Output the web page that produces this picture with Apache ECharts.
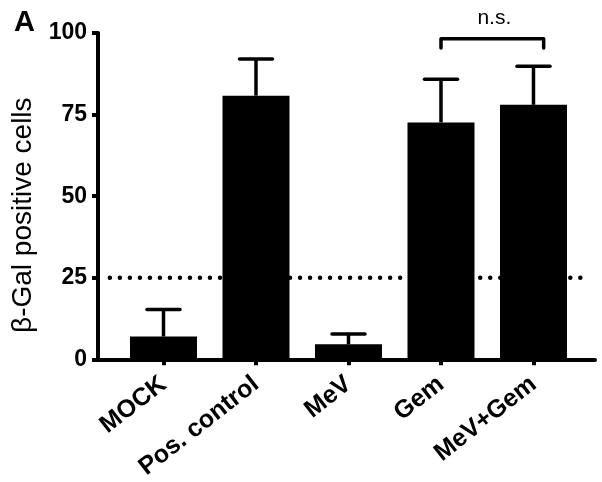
<!DOCTYPE html>
<html><head><meta charset="utf-8">
<script src="https://cdn.jsdelivr.net/npm/echarts@6/dist/echarts.min.js"></script>
<style>html,body{margin:0;padding:0;background:#fff}#c{width:602px;height:482px}</style>
</head><body><div id="c"></div>
<script>
const categories = ['MOCK', 'Pos. control', 'MeV', 'Gem', 'MeV+Gem'];
const means = [7.0, 80.8, 4.6, 72.6, 78.0];
const upper = [15.3, 92.0, 7.8, 85.8, 89.8];
const yTicks = [0, 25, 50, 75, 100];
const threshold = 25;
const bracketPair = [3, 4];
const bracketLabel = 'n.s.';

const chart = echarts.init(document.getElementById('c'));
const F = 'Liberation Sans, Arial, sans-serif';
const idx = categories.map((_, i) => i);

chart.setOption({
  animation: false,
  textStyle: { fontFamily: F, color: '#000' },
  title: { text: 'A', left: 9, top: 3, textStyle: { fontFamily: F, fontSize: 29, fontWeight: 'bold', color: '#000' } },
  grid: { left: 98, right: 7, top: 33, bottom: 121, containLabel: false },
  xAxis: {
    type: 'value', min: -0.708, max: 4.665,
    axisLine: { show: true, onZero: false, lineStyle: { color: '#000', width: 4 } },
    axisTick: { show: true, customValues: idx, length: 6, lineStyle: { color: '#000', width: 4 } },
    axisLabel: { customValues: idx, rotate: 38, margin: 22, fontFamily: F, fontSize: 25, fontWeight: 'bold', color: '#000',
      formatter: v => categories[Math.round(v)] },
    splitLine: { show: false }
  },
  yAxis: {
    type: 'value', min: 0, max: 100, interval: 25,
    name: 'β-Gal positive cells', nameLocation: 'middle', nameGap: 56,
    nameTextStyle: { fontFamily: F, fontSize: 28, color: '#000', padding: [0, 38, 0, 0] },
    axisLine: { show: true, onZero: false, lineStyle: { color: '#000', width: 4 } },
    axisTick: { show: true, length: 6, lineStyle: { color: '#000', width: 4 } },
    axisLabel: { margin: 11, fontFamily: F, fontSize: 23, fontWeight: 'bold', color: '#000',
      formatter: v => yTicks.includes(v) ? String(v) : '' },
    splitLine: { show: false }
  },
  series: [
    {
      type: 'line', z: 1, symbol: 'none', silent: true,
      data: [[-0.58, threshold], [4.59, threshold]],
      lineStyle: { color: '#000', width: 4.5, type: [0.01, 10], cap: 'round' }
    },
    {
      type: 'bar', z: 3, barWidth: 67,
      data: means.map((m, i) => [i, m]),
      itemStyle: { color: '#000' }
    },
    {
      type: 'custom', z: 4, clip: false,
      data: means.map((m, i) => [i, m, upper[i]]),
      renderItem: (params, api) => {
        const b = api.coord([api.value(0), api.value(1)]);
        const t = api.coord([api.value(0), api.value(2)]);
        const hw = 16.5;
        const st = { stroke: '#000', lineWidth: 3.5 };
        return { type: 'group', children: [
          { type: 'line', shape: { x1: b[0], y1: b[1], x2: t[0], y2: t[1] }, style: st },
          { type: 'line', shape: { x1: t[0] - hw, y1: t[1], x2: t[0] + hw, y2: t[1] }, style: Object.assign({ lineCap: 'round' }, st) }
        ]};
      }
    },
    {
      type: 'custom', z: 5, clip: false,
      data: [[bracketPair[0], bracketPair[1] + 0.11, 98.2, 95.4]],
      renderItem: (params, api) => {
        const l = api.coord([api.value(0), api.value(2)]);
        const r = api.coord([api.value(1), api.value(2)]);
        const lb = api.coord([api.value(0), api.value(3)]);
        return { type: 'group', children: [
          { type: 'polyline', shape: { points: [[l[0], lb[1]], l, r, [r[0], lb[1]]] },
            style: { stroke: '#000', lineWidth: 3.5, fill: null, lineJoin: 'round', lineCap: 'round' } },
          { type: 'text', style: { text: bracketLabel, x: (l[0] + r[0]) / 2 + 2, y: l[1] - 10, align: 'center', verticalAlign: 'bottom',
            font: '21px ' + F, fill: '#000' } }
        ]};
      }
    }
  ]
});
</script></body></html>
